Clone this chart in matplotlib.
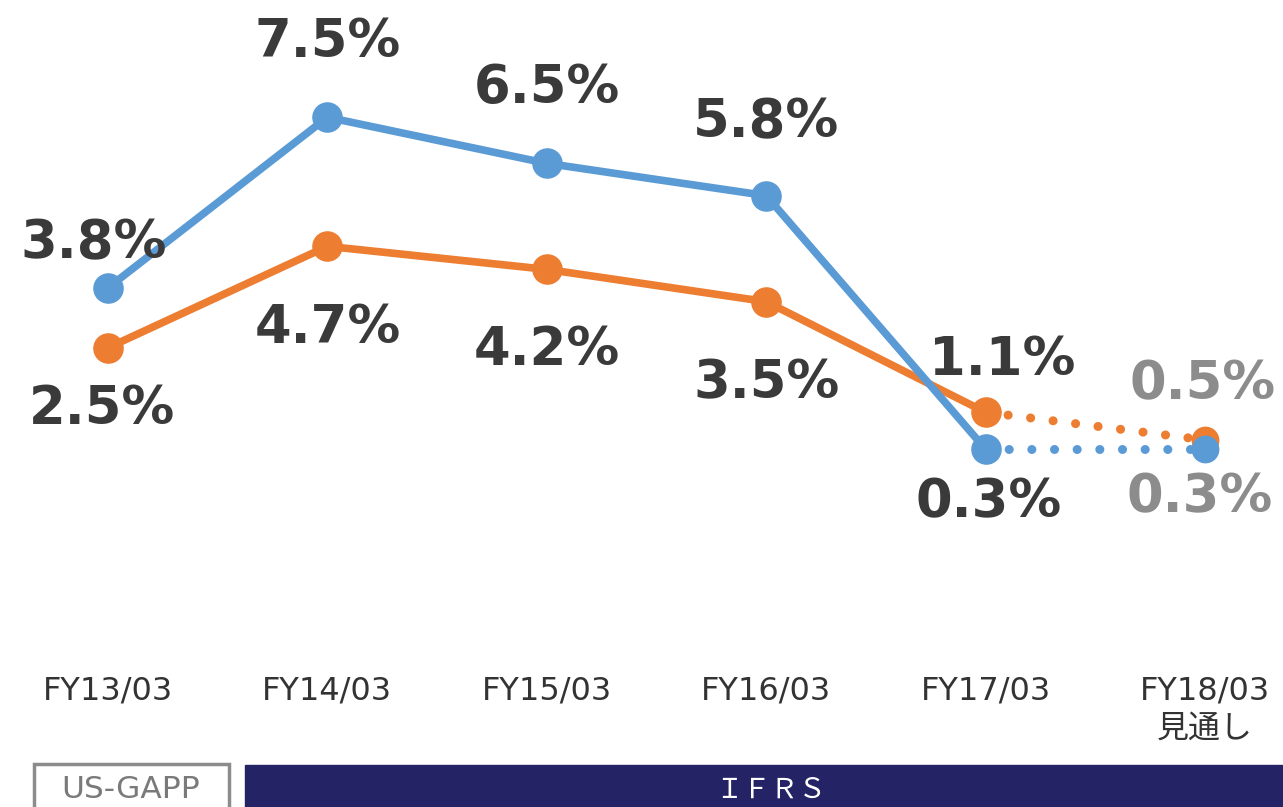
import numpy as np
import matplotlib.pyplot as plt
from matplotlib.patches import Rectangle

periods = ['FY13/03', 'FY14/03', 'FY15/03', 'FY16/03', 'FY17/03', 'FY18/03\n見通し']
blue_vals = [3.8, 7.5, 6.5, 5.8, 0.3, 0.3]
orange_vals = [2.5, 4.7, 4.2, 3.5, 1.1, 0.5]

BLUE = '#5B9BD5'
ORANGE = '#ED7D31'
DARK = '#3a3a3a'
GREY = '#8c8c8c'

# label offsets in points (dx, dy) relative to each point
blue_off = [(-10, 32), (0, 54), (0, 54), (0, 53), (2, -38), (-4, -35)]
orange_off = [(-4, -44), (0, -59), (0, -58), (0, -59), (12, 38), (-2, 40)]

fig = plt.figure(figsize=(12.83, 8.07), dpi=100)
ax = fig.add_axes([0, 147 / 807, 1, 660 / 807])

x = np.arange(len(periods))
for vals, col, offs in [(orange_vals, ORANGE, orange_off), (blue_vals, BLUE, blue_off)]:
    # actual results (solid)
    ax.plot(x[:5], vals[:5], color=col, lw=5.5, marker='o', ms=21,
            solid_capstyle='round', zorder=3)
    # forecast (dotted)
    ax.plot(x[4:], vals[4:], color=col, lw=6.5, linestyle=(0, (0.01, 2.5)),
            dash_capstyle='round', zorder=2)
    ax.plot(x[5], vals[5], marker='o', ms=19, color=col, zorder=3)
    for i, v in enumerate(vals):
        ax.annotate('{:.1f}%'.format(v), (x[i], v), xytext=offs[i],
                    textcoords='offset points', ha='center', va='center',
                    fontsize=38, fontweight='bold',
                    color=GREY if i == 5 else DARK, zorder=5)

ax.set_xlim(-108 / 219.4, 5 + 78 / 219.4)
ax.set_ylim(-197 / 46.1, 463 / 46.1)
ax.set_xticks(x)
ax.set_xticklabels(periods, fontsize=23, color='#333333',
                   family=['DejaVu Sans', 'Noto Sans CJK JP'], linespacing=1.3)
ax.tick_params(axis='x', length=0, pad=11)
ax.set_yticks([])
for s in ax.spines.values():
    s.set_visible(False)

# accounting standard boxes
fig.patches.append(Rectangle((34 / 1283, -0.01), 195 / 1283, 0.01 + 43 / 807,
                             transform=fig.transFigure, fill=False,
                             edgecolor=GREY, lw=2.5))
fig.text(131 / 1283, 18 / 807, 'US-GAPP', ha='center', va='center',
         fontsize=22.5, color='#7a7a7a')
fig.patches.append(Rectangle((245 / 1283, 0), 1038 / 1283, 42 / 807,
                             transform=fig.transFigure, color='#232366'))
fig.text(771 / 1283, 17 / 807, 'ＩＦＲＳ', ha='center', va='center',
         fontsize=20, color='white', family='Noto Sans CJK JP')

fig.savefig('out.png', dpi=100)
